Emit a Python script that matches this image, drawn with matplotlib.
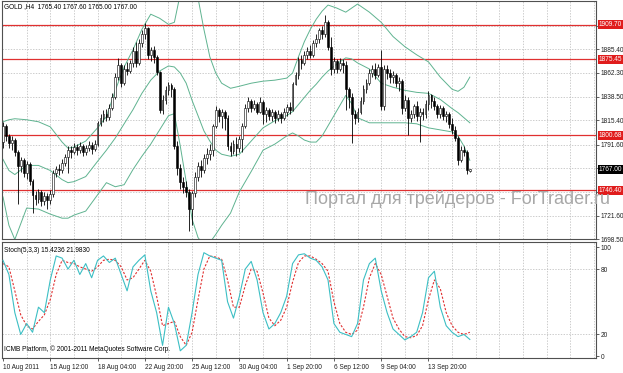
import matplotlib
matplotlib.use("Agg")
import matplotlib.pyplot as plt
import matplotlib.transforms as mtransforms

# ---- GOLD H4 candles ----
opens = [1794, 1810, 1800, 1793, 1796, 1784, 1770, 1776, 1764, 1772,
         1756, 1742, 1738, 1745, 1736, 1741, 1737, 1743, 1764, 1767,
         1766, 1773, 1779, 1786, 1784, 1789, 1786, 1790, 1784, 1788,
         1791, 1787, 1792, 1813, 1818, 1822, 1819, 1828, 1838, 1858,
         1870, 1852, 1866, 1864, 1872, 1884, 1872, 1892, 1900, 1906,
         1880, 1885, 1878, 1863, 1826, 1835, 1845, 1850, 1846, 1790,
         1768, 1755, 1750, 1745, 1728, 1744, 1760, 1770, 1766, 1778,
         1782, 1786, 1810, 1826, 1820, 1824, 1818, 1790, 1785, 1792,
         1788, 1797, 1810, 1828, 1834, 1828, 1832, 1824, 1833, 1822,
         1826, 1820, 1824, 1818, 1822, 1818, 1824, 1829, 1826, 1851,
         1860, 1875, 1872, 1880, 1884, 1880, 1892, 1896, 1904, 1900,
         1912, 1888, 1866, 1874, 1866, 1872, 1870, 1846, 1838, 1822,
         1818, 1824, 1834, 1846, 1852, 1862, 1866, 1860, 1868, 1830,
         1866, 1862, 1858, 1860, 1852, 1854, 1828, 1835, 1818, 1822,
         1830, 1820, 1824, 1822, 1832, 1840, 1834, 1830, 1822, 1828,
         1820, 1822, 1812, 1806, 1798, 1776, 1786, 1784, 1765.4]
closes = [1810, 1800, 1793, 1796, 1784, 1770, 1776, 1764, 1772, 1756,
          1742, 1738, 1745, 1736, 1741, 1737, 1743, 1764, 1767, 1766,
          1773, 1779, 1786, 1784, 1789, 1786, 1790, 1784, 1788, 1791,
          1787, 1792, 1813, 1818, 1822, 1819, 1828, 1838, 1858, 1870,
          1852, 1866, 1864, 1872, 1884, 1872, 1892, 1900, 1906, 1880,
          1885, 1878, 1863, 1826, 1835, 1845, 1850, 1846, 1790, 1768,
          1755, 1750, 1745, 1728, 1744, 1760, 1770, 1766, 1778, 1782,
          1786, 1810, 1826, 1820, 1824, 1818, 1790, 1785, 1792, 1788,
          1797, 1810, 1828, 1834, 1828, 1832, 1824, 1833, 1822, 1826,
          1820, 1824, 1818, 1822, 1818, 1824, 1829, 1826, 1851, 1860,
          1875, 1872, 1880, 1884, 1880, 1892, 1896, 1904, 1900, 1912,
          1888, 1866, 1874, 1866, 1872, 1870, 1846, 1838, 1822, 1818,
          1824, 1834, 1846, 1852, 1862, 1866, 1860, 1868, 1830, 1866,
          1862, 1858, 1860, 1852, 1854, 1828, 1835, 1818, 1822, 1830,
          1820, 1824, 1822, 1832, 1840, 1834, 1830, 1822, 1828, 1820,
          1822, 1812, 1806, 1798, 1776, 1786, 1784, 1766, 1767.0]
highs = [1814, 1812, 1802, 1800, 1798, 1786, 1779, 1778, 1775, 1774,
         1758, 1746, 1748, 1747, 1745, 1744, 1747, 1766, 1770, 1772,
         1777, 1782, 1790, 1790, 1793, 1792, 1794, 1792, 1791, 1795,
         1794, 1796, 1815, 1822, 1826, 1827, 1832, 1842, 1862, 1877,
         1872, 1870, 1873, 1875, 1888, 1893, 1896, 1904, 1911, 1907,
         1888, 1889, 1880, 1864, 1840, 1849, 1853, 1852, 1848, 1795,
         1772, 1760, 1756, 1748, 1746, 1765, 1774, 1776, 1782, 1788,
         1792, 1812, 1830, 1828, 1827, 1826, 1821, 1794, 1796, 1799,
         1800, 1813, 1832, 1838, 1836, 1835, 1833, 1838, 1835, 1829,
         1828, 1827, 1826, 1826, 1824, 1828, 1832, 1833, 1853, 1863,
         1878, 1880, 1884, 1888, 1890, 1895, 1900, 1906, 1908, 1919,
         1914, 1898, 1878, 1876, 1877, 1876, 1874, 1848, 1842, 1826,
         1828, 1838, 1850, 1856, 1866, 1870, 1872, 1871, 1885, 1870,
         1870, 1866, 1864, 1862, 1858, 1856, 1840, 1838, 1826, 1832,
         1834, 1828, 1828, 1835, 1844, 1841, 1838, 1832, 1831, 1830,
         1825, 1824, 1818, 1810, 1800, 1790, 1790, 1786, 1767.6]
lows = [1788, 1795, 1788, 1786, 1780, 1733, 1765, 1760, 1758, 1752,
        1724, 1732, 1734, 1731, 1732, 1728, 1733, 1740, 1760, 1762,
        1764, 1770, 1764, 1778, 1782, 1781, 1783, 1780, 1781, 1785,
        1782, 1785, 1790, 1810, 1814, 1815, 1816, 1826, 1836, 1855,
        1848, 1850, 1860, 1862, 1868, 1868, 1870, 1888, 1896, 1876,
        1874, 1872, 1860, 1823, 1822, 1832, 1840, 1838, 1787, 1762,
        1748, 1744, 1740, 1706, 1712, 1740, 1756, 1760, 1764, 1772,
        1776, 1780, 1808, 1814, 1808, 1806, 1786, 1780, 1782, 1780,
        1784, 1784, 1808, 1824, 1824, 1826, 1822, 1823, 1812, 1814,
        1816, 1815, 1813, 1815, 1813, 1816, 1820, 1822, 1825, 1850,
        1856, 1866, 1870, 1876, 1877, 1878, 1888, 1892, 1896, 1898,
        1885, 1860, 1862, 1862, 1864, 1862, 1826, 1828, 1793, 1812,
        1814, 1822, 1832, 1842, 1850, 1858, 1856, 1858, 1826, 1826,
        1856, 1852, 1852, 1848, 1844, 1822, 1825, 1801, 1814, 1818,
        1815, 1794, 1816, 1818, 1826, 1828, 1826, 1818, 1818, 1816,
        1814, 1808, 1802, 1795, 1771, 1774, 1780, 1763, 1765.0]

# ---- Bollinger bands, read at a few bars ----
bb_idx = [0, 2, 4, 8, 12, 16, 20, 22, 24, 28, 32, 35, 38, 41, 44, 47, 50, 53,
          56, 58, 60, 62, 64, 66, 68, 70, 72, 74, 77, 80, 84, 88, 92, 96,
          98, 100, 102, 104, 106, 108, 110, 113, 116, 118, 120, 124, 128,
          132, 136, 140, 144, 148, 152, 154, 156, 158]
bb_upper = [1814, 1816, 1817, 1816, 1814, 1809, 1794, 1788, 1789, 1795, 1808,
            1819, 1845, 1868, 1885, 1905, 1920, 1916, 1910, 1912, 1940,
            1952, 1955, 1936, 1905, 1878, 1862, 1852, 1847, 1849, 1852,
            1854, 1855, 1857, 1862, 1878, 1893, 1905, 1915, 1923, 1929,
            1926, 1922, 1926, 1930, 1922, 1912, 1898, 1888, 1880, 1873,
            1858, 1846, 1844, 1848, 1858]
bb_middle = [1777, 1766, 1762, 1771, 1771, 1766, 1757, 1754, 1755, 1760, 1775,
             1786, 1798, 1812, 1826, 1842, 1855, 1864, 1869, 1868, 1862,
             1852, 1835, 1820, 1805, 1795, 1786, 1782, 1780, 1782, 1795,
             1808, 1815, 1820, 1824, 1831, 1838, 1845, 1851, 1858, 1864,
             1871, 1877, 1876, 1872, 1866, 1852, 1848, 1845, 1843, 1842,
             1836, 1827, 1823, 1818, 1813]
bb_lower = [1740, 1712, 1698, 1729, 1728, 1723, 1719, 1719, 1722, 1726, 1742,
            1754, 1750, 1752, 1767, 1780, 1792, 1806, 1820, 1822, 1790,
            1755, 1718, 1700, 1692, 1695, 1703, 1712, 1724, 1745, 1765,
            1786, 1792, 1800, 1803, 1800, 1796, 1794, 1794, 1800, 1810,
            1825, 1840, 1832, 1818, 1813, 1813, 1813, 1813, 1812, 1808,
            1806, 1804, 1800, 1790, 1776]

# ---- Stochastic (5,3,3), read every second bar ----
stoch_idx = list(range(0, 159, 2))
stoch_main = [88, 75, 40, 20, 30, 22, 45, 40, 70, 92,
              90, 80, 88, 75, 85, 72, 88, 92, 86, 90,
              75, 60, 82, 88, 93, 60, 40, 10, 45, 30,
              5, 10, 40, 75, 95, 92, 90, 88, 50, 35,
              55, 80, 87, 70, 40, 25, 30, 40, 55, 85,
              93, 94, 90, 88, 82, 70, 30, 22, 20, 18,
              30, 70, 85, 90, 60, 40, 25, 20, 15, 18,
              22, 40, 72, 78, 45, 28, 22, 18, 20, 15.4236]
stoch_signal = [85, 82, 60, 38, 28, 25, 32, 38, 52, 75,
                88, 86, 85, 82, 80, 78, 82, 88, 89, 88,
                82, 70, 72, 80, 88, 78, 55, 28, 30, 32,
                18, 10, 22, 52, 80, 92, 91, 89, 70, 45,
                45, 65, 80, 78, 58, 35, 28, 33, 45, 68,
                86, 92, 92, 89, 85, 78, 50, 30, 22, 20,
                24, 45, 72, 85, 75, 55, 35, 25, 18, 17,
                19, 28, 52, 70, 62, 40, 28, 22, 20, 21.9830]

level_prices = [1909.70, 1875.45, 1800.68, 1746.40]
last_price = 1767.00
price_ticks = [1698.50, 1721.60, 1744.90, 1768.30, 1791.60, 1815.40,
               1838.50, 1862.30, 1885.40, 1908.80]
price_tick_labels = ["1698.50", "1721.60", "", "", "1791.60", "1815.40",
                     "1838.50", "1862.30", "1885.40", ""]
time_idx = [0, 16, 32, 48, 64, 80, 96, 112, 128, 144]
time_labels = ["10 Aug 2011", "15 Aug 12:00", "18 Aug 04:00", "22 Aug 20:00",
               "25 Aug 12:00", "30 Aug 04:00", "1 Sep 20:00", "6 Sep 12:00",
               "9 Sep 04:00", "13 Sep 20:00"]

W, H = 623, 373
FONT = "Liberation Sans"
SMALL = 4.7
GRID = "#b8b8b8"
BB_COL = "#5fb390"
plt.rcParams["font.family"] = [FONT, "DejaVu Sans"]


def px_box(x0, y0, x1, y1):
    return [x0 / W, 1 - y1 / H, (x1 - x0) / W, (y1 - y0) / H]


fig = plt.figure(figsize=(W / 100, H / 100), dpi=100)
fig.patch.set_facecolor("white")
ax = fig.add_axes(px_box(2, 1, 596, 239))
ax2 = fig.add_axes(px_box(2, 242, 596, 358))

xmax = 200.7
for a in (ax, ax2):
    a.set_xlim(-0.34, xmax)
    for s in a.spines.values():
        s.set_color("#505050")
        s.set_linewidth(0.8)
    a.yaxis.tick_right()
    a.tick_params(axis="y", length=2, width=0.5, pad=1.5,
                  labelsize=SMALL, colors="#202020")
    a.vlines(range(8, int(xmax) + 1, 8), 0, 1, transform=a.get_xaxis_transform(),
             colors=GRID, linewidth=0.5, linestyles=(0, (2, 2)), zorder=0)

# ---- main price panel ----
ax.set_ylim(1698.5, 1933.0)
ax.set_yticks(price_ticks)
ax.set_yticklabels(price_tick_labels)
ax.set_xticks(time_idx)
ax.tick_params(axis="x", length=0, labelbottom=False)
for p in price_ticks:
    ax.axhline(p, color=GRID, linewidth=0.5, linestyle=(0, (2, 2)), zorder=0)

for p in level_prices:
    ax.axhline(p, color="#e03030", linewidth=0.9, zorder=1)

ax.plot(bb_idx, bb_upper, color=BB_COL, linewidth=0.7, zorder=2)
ax.plot(bb_idx, bb_middle, color=BB_COL, linewidth=0.7, zorder=2)
ax.plot(bb_idx, bb_lower, color=BB_COL, linewidth=0.7, zorder=2)

idx = list(range(len(closes)))
ax.vlines(idx, lows, highs, colors="black", linewidth=0.6, zorder=3)
bottoms = [min(o, c) for o, c in zip(opens, closes)]
heights = [max(abs(c - o), 0.4) for o, c in zip(opens, closes)]
faces = ["white" if c >= o else "black" for o, c in zip(opens, closes)]
ax.bar(idx, heights, bottom=bottoms, width=0.62, color=faces,
       edgecolor="black", linewidth=0.4, zorder=4)

# price scale boxes
btrans = mtransforms.blended_transform_factory(fig.transFigure, ax.transData)
for p in level_prices:
    ax.text(599 / W, p, f"{p:.2f}", transform=btrans, fontsize=SMALL,
            color="white", va="center", ha="left", clip_on=False, zorder=10,
            bbox=dict(boxstyle="square,pad=0.18", fc="#e01c1c", ec="none"))
ax.text(599 / W, last_price, f"{last_price:.2f}", transform=btrans,
        fontsize=SMALL, color="white", va="center", ha="left", clip_on=False,
        zorder=10, bbox=dict(boxstyle="square,pad=0.18", fc="black", ec="none"))

fig.text(4 / W, 1 - 7 / H,
         "GOLD ,H4  1765.40 1767.60 1765.00 1767.00",
         fontsize=SMALL, color="black", va="center", ha="left")

# ---- stochastic panel ----
ax2.set_ylim(-1.6, 104.8)
ax2.set_yticks([0, 20, 80, 100])
ax2.set_yticklabels(["0", "20", "80", "100"])
for lv in (20, 80):
    ax2.axhline(lv, color=GRID, linewidth=0.5, linestyle=(0, (2, 2)), zorder=0)
ax2.plot(stoch_idx, stoch_main, color="#3cbfc4", linewidth=0.8, zorder=3)
ax2.plot(stoch_idx, stoch_signal, color="#e03030", linewidth=0.8,
         linestyle=(0, (2, 1.5)), zorder=2)
ax2.set_xticks(time_idx)
ax2.set_xticklabels(time_labels)
ax2.tick_params(axis="x", length=2, width=0.5, pad=2, labelsize=SMALL,
                colors="#202020")
for tl in ax2.get_xticklabels():
    tl.set_ha("left")

fig.text(4 / W, 1 - 250 / H, "Stoch(5,3,3) 15.4236 21.9830",
         fontsize=SMALL, color="black", va="center", ha="left")
fig.text(4 / W, 1 - 349 / H,
         "ICMB Platform, \u00a9 2001-2011 MetaQuotes Software Corp.",
         fontsize=SMALL, color="black", va="center", ha="left")

# watermark, sits just under the 1746.40 box like in the terminal
fig.text(305 / W, 1 - 204 / H, "Портал для трейдеров - ForTrader.ru",
         fontsize=13.0, color="#a8a8a8", va="baseline", ha="left", zorder=5)

fig.savefig("out.png", dpi=100, facecolor="white")
